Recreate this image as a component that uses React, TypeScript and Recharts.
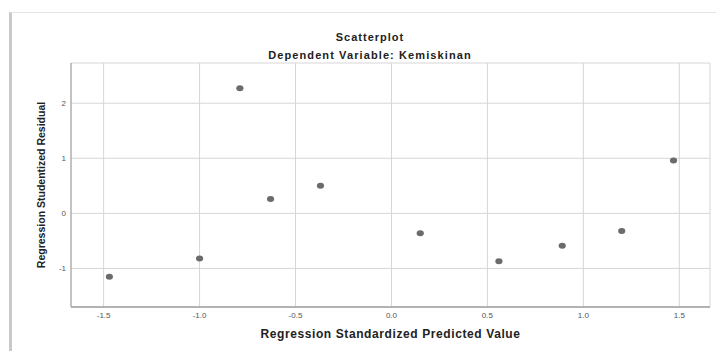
import { ScatterChart, Scatter, XAxis, YAxis, CartesianGrid, Label } from 'recharts';

// values
const predicted = [-1.47, -1.0, -0.79, -0.63, -0.37, 0.15, 0.56, 0.89, 1.2, 1.47];
const residuals = [-1.15, -0.82, 2.27, 0.26, 0.5, -0.36, -0.87, -0.59, -0.32, 0.96];
const xTicks = [-1.5, -1.0, -0.5, 0.0, 0.5, 1.0, 1.5];
const yTicks = [-1, 0, 1, 2];

const FONT = '"Liberation Sans", Arial, sans-serif';

const points = predicted.map((x, i) => ({ x, y: residuals[i] }));

const dot = (p: any) => <ellipse cx={p.cx} cy={p.cy} rx={3.6} ry={3} fill="#6b6b6b" />;

const yTitle = (props: any) => {
  const vb = props.viewBox;
  const cx = vb.x + 27;
  const cy = vb.y + vb.height / 2;
  return (
    <text x={cx} y={cy} transform={`rotate(-90, ${cx}, ${cy})`} textAnchor="middle" dominantBaseline="central"
      fontFamily={FONT} fontSize={10.5} fontWeight={700} fill="#222">
      Regression Studentized Residual
    </text>
  );
};

const xTitle = (props: any) => {
  const vb = props.viewBox;
  return (
    <text x={vb.x + vb.width / 2} y={vb.y + 31} textAnchor="middle" fontFamily={FONT} fontSize={12}
      fontWeight={700} fill="#222" letterSpacing={0.6}>
      Regression Standardized Predicted Value
    </text>
  );
};

export default function App() {
  return (
    <div style={{ position: 'absolute', left: 0, top: 0, width: 716, height: 351, background: '#fff', fontFamily: FONT }}>
      {/* window frame */}
      <div style={{ position: 'absolute', left: 9, top: 12, width: 704, height: 339, borderTop: '1px solid #e4e4e4', borderLeft: '3px solid #c9c9c9' }} />
      <div style={{ position: 'absolute', left: 270, top: 31, width: 200, textAlign: 'center', fontSize: 11, lineHeight: '13px', fontWeight: 700, letterSpacing: 1, color: '#222' }}>
        Scatterplot
      </div>
      <div style={{ position: 'absolute', left: 220, top: 49, width: 300, textAlign: 'center', fontSize: 11, lineHeight: '13px', fontWeight: 700, letterSpacing: 1.1, color: '#222' }}>
        Dependent Variable: Kemiskinan
      </div>
      <div style={{ position: 'absolute', left: 0, top: 0 }}>
        <ScatterChart width={716} height={351} margin={{ top: 63, right: 6, bottom: 14, left: 14 }}>
          <CartesianGrid stroke="#d6d6d6" strokeWidth={1} />
          <XAxis
            type="number"
            dataKey="x"
            domain={[-1.67, 1.66]}
            ticks={xTicks}
            tickFormatter={(v: number) => v.toFixed(1)}
            height={30}
            tickSize={0}
            tickMargin={5}
            tick={{ fontSize: 8, fill: '#555', fontFamily: FONT }}
            axisLine={{ stroke: '#a0a0a0', strokeWidth: 1.5 }}
            allowDataOverflow
          >
            <Label content={xTitle} />
          </XAxis>
          <YAxis
            type="number"
            dataKey="y"
            domain={[-1.7, 2.73]}
            ticks={yTicks}
            width={57}
            tickSize={0}
            tickMargin={5}
            tick={{ fontSize: 8, fill: '#555', fontFamily: FONT }}
            axisLine={{ stroke: '#9a9a9a' }}
            allowDataOverflow
          >
            <Label content={yTitle} />
          </YAxis>
          <Scatter data={points} shape={dot} isAnimationActive={false} />
        </ScatterChart>
      </div>
    </div>
  );
}
